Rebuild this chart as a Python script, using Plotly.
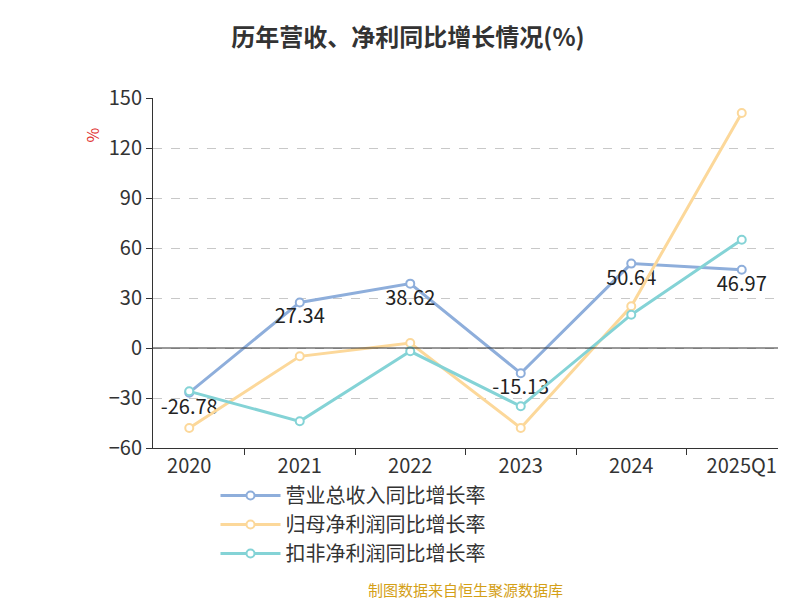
import plotly.graph_objects as go

years = ["2020", "2021", "2022", "2023", "2024", "2025Q1"]
revenue_growth = [-26.78, 27.34, 38.62, -15.13, 50.64, 46.97]
profit_growth = [-48.0, -5.0, 3.0, -48.0, 25.0, 141.0]
deducted_growth = [-26.0, -44.0, -2.0, -35.0, 20.0, 65.0]
y_ticks = [-60, -30, 0, 30, 60, 90, 120, 150]

font = "Noto Sans CJK SC"
fig = go.Figure()

def add(name, vals, color, labels=False):
    fig.add_trace(go.Scatter(
        x=years, y=vals, name=name,
        mode="lines+markers+text" if labels else "lines+markers",
        line=dict(color=color, width=3),
        marker=dict(size=8, color="white", line=dict(color=color, width=2)),
        text=[f"{v:.2f}" for v in vals] if labels else None,
        textposition="bottom center" if labels else None,
        textfont=dict(size=20, color="#222"),
    ))

add("营业总收入同比增长率", revenue_growth, "#8eaedb", labels=True)
add("归母净利润同比增长率", profit_growth, "#fcd89a")
add("扣非净利润同比增长率", deducted_growth, "#84d3d6")

fig.update_layout(
    width=800, height=600,
    paper_bgcolor="white", plot_bgcolor="white",
    font=dict(family=font, size=20, color="#333"),
    title=dict(text="<b>历年营收、净利同比增长情况(%)</b>", x=0.5, y=0.965,
               xanchor="center", font=dict(size=24, color="#333")),
    margin=dict(l=145, r=30, t=90, b=160),
    legend=dict(orientation="h", x=0.1, y=-0.08, xanchor="left", yanchor="top",
                font=dict(size=20, color="#333"), itemwidth=60, entrywidth=330),
    xaxis=dict(showline=True, linecolor="#333", ticks="outside", ticklen=6,
               tickcolor="#333", showgrid=False, anchor="y", position=0,
               tickson="boundaries"),
    yaxis=dict(range=[-60, 150], tickvals=y_ticks, showline=True, linecolor="#333",
               ticks="outside", ticklen=6, tickcolor="#333", gridcolor="#c8c8c8",
               griddash="dash", zeroline=False),
    annotations=[
        dict(text="%", x=-0.12, y=0.92, xref="paper", yref="paper", textangle=-90,
             showarrow=False, font=dict(size=16, color="#e03030")),
        dict(text="制图数据来自恒生聚源数据库", x=0.5, y=-0.44, xref="paper",
             yref="paper", showarrow=False, font=dict(size=15, color="#d4a017")),
    ],
)
fig.add_shape(type="line", xref="paper", yref="y", x0=0, x1=1, y0=0, y1=0,
              line=dict(color="#333", width=1))
fig.write_html("out.html")
